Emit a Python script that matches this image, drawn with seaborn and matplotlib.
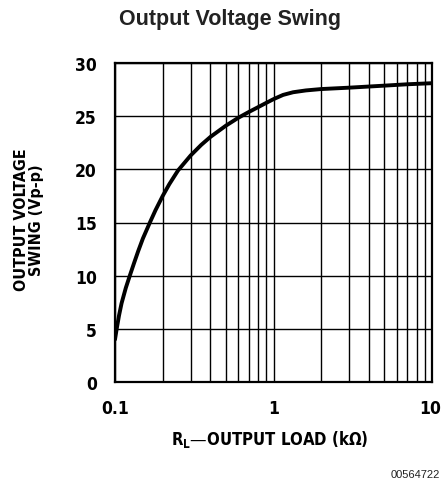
import matplotlib
matplotlib.use("Agg")
import matplotlib.pyplot as plt
import matplotlib.transforms as mtransforms
import seaborn as sns
import pandas as pd
from matplotlib.ticker import LogLocator, FixedLocator, NullFormatter

# Data
load_kohm = [0.1, 0.1025, 0.106, 0.11, 0.117, 0.124, 0.132, 0.14, 0.15, 0.166, 0.18, 0.2, 0.22,
             0.25, 0.3, 0.35, 0.4, 0.5, 0.6, 0.7, 0.8, 0.9, 1.0, 1.15, 1.33, 1.6, 2.0, 3.0, 5.0, 7.0, 10.0]
swing_vpp = [4.0, 5.0, 6.25, 7.4, 8.85, 10.0, 11.2, 12.3, 13.5, 15.0, 16.15, 17.5, 18.6,
             19.9, 21.3, 22.3, 23.05, 24.1, 24.85, 25.4, 25.85, 26.25, 26.6, 27.0, 27.25, 27.42, 27.55, 27.68, 27.87, 28.0, 28.1]
x_ticks = [0.1, 1, 10]
x_tick_labels = ["0.1", "1", "10"]
y_ticks = [0, 5, 10, 15, 20, 25, 30]

sns.set_theme(style="white")
plt.rcParams['font.family'] = ['DejaVu Sans']

df = pd.DataFrame({"load": load_kohm, "swing": swing_vpp})

fig = plt.figure(figsize=(4.41, 4.85), dpi=100)
ax = fig.add_axes([115/441, 1-383/485, (432-115)/441, (383-64)/485])

sns.lineplot(data=df, x="load", y="swing", ax=ax, color="black", linewidth=2.8, zorder=5)

ax.set_xscale("log")
ax.set_xlim(0.1, 10)
ax.set_ylim(0, 30)
ax.xaxis.set_major_locator(FixedLocator(x_ticks))
ax.set_xticklabels(x_tick_labels)
ax.xaxis.set_minor_locator(LogLocator(base=10, subs=range(2, 10)))
ax.xaxis.set_minor_formatter(NullFormatter())
ax.set_yticks(y_ticks)

ax.grid(True, which="both", axis="x", color="black", linewidth=1.0)
ax.grid(True, which="major", axis="y", color="black", linewidth=1.0)
for s in ax.spines.values():
    s.set_color("black")
    s.set_linewidth(1.6)
    s.set_visible(True)

COND = dict(fontstretch="condensed", fontweight="bold")
ax.tick_params(axis="both", which="both", length=0)
ax.tick_params(axis="y", pad=13)
ax.tick_params(axis="x", pad=12)
for lab in ax.get_xticklabels() + ax.get_yticklabels():
    lab.set_fontsize(12.5)
    lab.set_fontweight("bold")
    lab.set_fontstretch("condensed")
    lab.set_color("black")

# nudge the rightmost x tick label so it stays inside the canvas
last = ax.get_xticklabels()[-1]
last.set_transform(last.get_transform() + mtransforms.ScaledTranslation(-2/100, 0, fig.dpi_scale_trans))

ax.set_xlabel("")
ax.set_ylabel("")

fig.text(230/441, 1 - 19/485, "Output Voltage Swing",
         ha="center", va="center", fontsize=15.5, fontweight="bold",
         family=["Liberation Sans", "DejaVu Sans"], color="#222222")
fig.text(270/441, 1 - 440/485, "R$_\\mathregular{L}$—OUTPUT LOAD (kΩ)",
         ha="center", va="center", fontsize=12, color="black", **COND)
fig.text(29/441, 1 - 220/485, "OUTPUT VOLTAGE\nSWING (Vp-p)",
         ha="center", va="center", rotation=90, fontsize=11.5,
         linespacing=1.05, color="black", **COND)
fig.text(440/441, 1 - 475/485, "00564722", ha="right", va="center", fontsize=8,
         family=["Liberation Sans", "DejaVu Sans"], color="#222222")

fig.savefig("out.png", dpi=100)
